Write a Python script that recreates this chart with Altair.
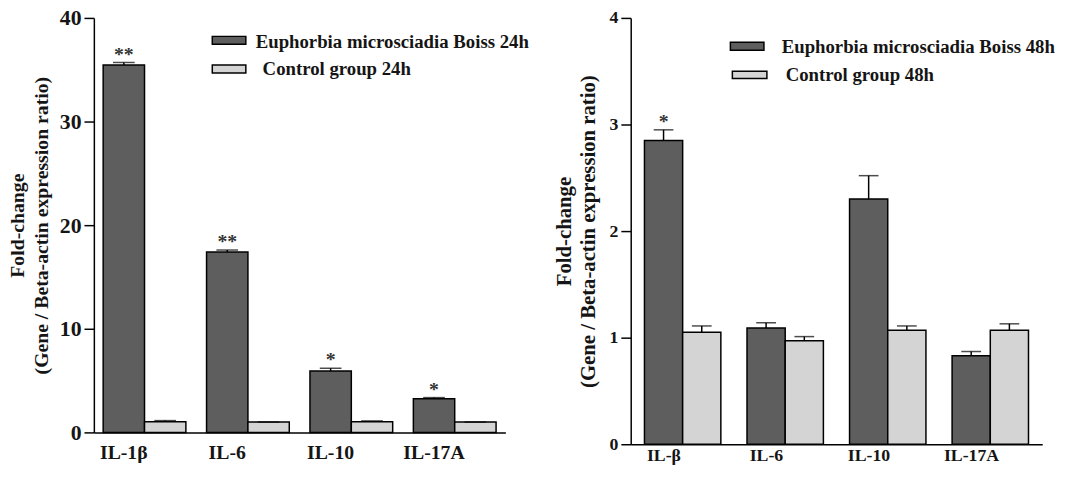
import altair as alt
import pandas as pd

# ---- data ----
genes_24 = ["IL-1β", "IL-6", "IL-10", "IL-17A"]
treat_24 = [35.45, 17.4, 5.93, 3.24]
treat_24_err = [35.7, 17.6, 6.19, 3.36]
ctrl_24 = [1.02, 1.0, 1.02, 1.0]
ctrl_24_err = [1.14, 1.0, 1.11, 1.0]
sig_24 = ["**", "**", "*", "*"]
groups_24 = ["Euphorbia microsciadia Boiss  24h", "Control group 24h"]

genes_48 = ["IL-β", "IL-6", "IL-10", "IL-17A"]
treat_48 = [2.85, 1.09, 2.30, 0.83]
treat_48_err = [2.95, 1.14, 2.52, 0.87]
ctrl_48 = [1.05, 0.97, 1.07, 1.07]
ctrl_48_err = [1.11, 1.01, 1.11, 1.13]
sig_48 = ["*", "", "", ""]
groups_48 = ["Euphorbia microsciadia Boiss  48h", "Control group 48h"]

ticks_24 = [0, 10, 20, 30, 40]
ticks_48 = [0, 1, 2, 3, 4]
y_title = ["Fold-change", "(Gene / Beta-actin expression ratio)"]

DARK = "#5e5e5e"
LIGHT = "#d4d4d4"
FONT = "Liberation Serif"
INK = "#151515"


def panel(genes, treat, terr, ctrl, cerr, sig, groups, ticks, *, w, h,
          pad_in, pad_out, label_fs, tick_fs, title_fs, title_x, label_pad,
          label_dx, cap, leg):
    rows = []
    for i, g in enumerate(genes):
        rows.append({"gene": g, "group": groups[0], "value": treat[i], "err": terr[i], "sig": sig[i]})
        rows.append({"gene": g, "group": groups[1], "value": ctrl[i], "err": cerr[i], "sig": ""})
    df = pd.DataFrame(rows)

    x = alt.X("gene:N", sort=genes,
              scale=alt.Scale(paddingInner=pad_in, paddingOuter=pad_out),
              axis=alt.Axis(title=None, labelAngle=0, ticks=False, labelPadding=label_pad,
                            labelOffset=label_dx, labelFont=FONT, labelFontSize=label_fs,
                            labelFontWeight="bold", labelColor=INK, domainColor="black",
                            domainWidth=1.5))
    xo = alt.XOffset("group:N", sort=groups,
                     scale=alt.Scale(domain=groups, paddingInner=0, paddingOuter=0))
    y = alt.Y("value:Q", scale=alt.Scale(domain=[ticks[0], ticks[-1]], nice=False),
              axis=alt.Axis(values=ticks, format="d", grid=False, title=y_title,
                            titleFont=FONT, titleFontSize=title_fs, titleFontWeight="bold",
                            titleColor=INK, titleAngle=270, titleAlign="center",
                            titleBaseline="middle", titleLineHeight=24,
                            titleX=title_x, titleY=h / 2,
                            labelFont=FONT, labelFontSize=tick_fs, labelFontWeight="bold",
                            labelColor=INK, labelPadding=3, tickSize=10, tickWidth=1.5,
                            tickColor="black", domainColor="black", domainWidth=1.5))
    color = alt.Color("group:N", sort=groups,
                      scale=alt.Scale(domain=groups, range=[DARK, LIGHT]), legend=None)

    base = alt.Chart(df)
    bars = base.mark_bar(stroke="black", strokeWidth=1.5).encode(x=x, xOffset=xo, y=y, color=color)
    rules = base.mark_rule(color="black", strokeWidth=1.5).encode(
        x=x, xOffset=xo, y="value:Q", y2="err:Q")
    caps = base.mark_tick(color="black", thickness=1.5, size=cap).encode(
        x=x, xOffset=xo, y="err:Q")
    stars = base.mark_text(font=FONT, fontSize=20, fontWeight="bold", color="#333333",
                           baseline="alphabetic", dy=-2).encode(
        x=x, xOffset=xo, y="err:Q", text="sig:N")

    layers = [bars, rules, caps, stars]
    # hand-drawn legend (two entries)
    for i, (lab, col) in enumerate(zip(groups, [DARK, LIGHT])):
        sx0, sx1, sy0, sy1, tx, ty = leg[i]
        one = alt.Chart(pd.DataFrame({"label": [lab]}))
        layers.append(one.mark_rect(fill=col, stroke="black", strokeWidth=1.5).encode(
            x=alt.value(sx0), x2=alt.value(sx1), y=alt.value(sy0), y2=alt.value(sy1)))
        layers.append(one.mark_text(font=FONT, fontSize=19, fontWeight="bold", color=INK,
                                    align="left", baseline="middle").encode(
            x=alt.value(tx), y=alt.value(ty), text="label:N"))
    return alt.layer(*layers).properties(width=w, height=h)


left = panel(genes_24, treat_24, treat_24_err, ctrl_24, ctrl_24_err, sig_24, groups_24, ticks_24,
             w=417, h=420, pad_in=0.2, pad_out=0.09, label_fs=20, tick_fs=22, title_fs=20,
             title_x=-77, label_pad=10, label_dx=-21, cap=22,
             leg=[(120, 154, 18.7, 26.7, 164, 24), (120, 154, 47.7, 55.7, 171, 52)])
right = panel(genes_48, treat_48, treat_48_err, ctrl_48, ctrl_48_err, sig_48, groups_48, ticks_48,
              w=417, h=432, pad_in=0.255, pad_out=0.134, label_fs=18, tick_fs=18, title_fs=21,
              title_x=-67, label_pad=2, label_dx=-19, cap=20,
              leg=[(101, 135, 24.7, 32.7, 153, 30), (103, 138, 54, 61.5, 157, 58)])

chart = alt.hconcat(left, right, spacing=127, bounds="flush").resolve_scale(
    xOffset="independent", color="independent", x="independent", y="independent"
).properties(
    padding={"left": 0, "top": -4, "right": 0, "bottom": 0},
).configure_view(stroke=None)

chart.save("out.html", embed_options={"renderer": "svg", "actions": False})
